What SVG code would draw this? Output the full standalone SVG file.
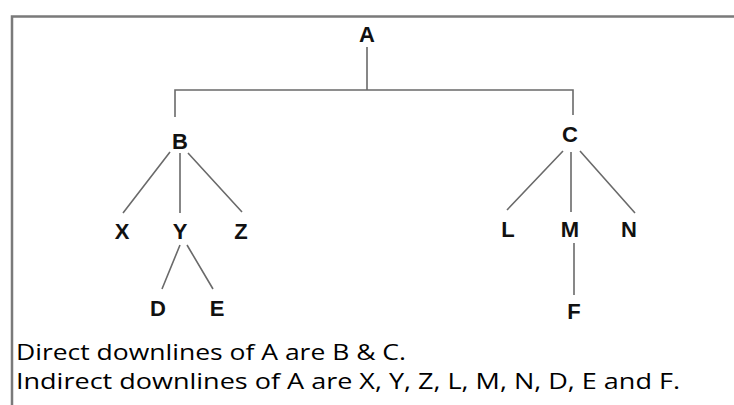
<svg xmlns="http://www.w3.org/2000/svg" width="734" height="405" viewBox="0 0 734 405">
<style>
.lbl{font-family:"Liberation Sans",Arial,sans-serif;font-weight:bold;font-size:22px;fill:#111;text-anchor:middle}
.txt{font-family:"Open Sans","DejaVu Sans",sans-serif;font-size:21px;font-weight:500;fill:#000}
.ln{stroke:#6a6a6a;stroke-width:1.6;fill:none}
</style>
<rect x="0" y="0" width="734" height="405" fill="#fff"/>
<path d="M12,420 V16.5 H740" stroke="#7a7a7a" stroke-width="2.5" fill="none"/>
<g id="connectors">
<path class="ln" d="M367,47 V90 M175,117 V90 H573 V115"/>
<path class="ln" d="M170,152 L123,213 M180,153 V213 M188,153 L242,212"/>
<path class="ln" d="M180,245 L162,289 M187,245 L213,289"/>
<path class="ln" d="M563,151 L507,210 M571,152 V212 M580,151 L635,213"/>
<path class="ln" d="M574,243 V295"/>
</g>
<g id="A"><text class="lbl" x="367" y="42">A</text></g>
<g id="B"><text class="lbl" x="180" y="149">B</text></g>
<g id="C"><text class="lbl" x="570" y="142">C</text></g>
<g id="X"><text class="lbl" x="122" y="239">X</text></g>
<g id="Y"><text class="lbl" x="180" y="239">Y</text></g>
<g id="Z"><text class="lbl" x="241" y="239">Z</text></g>
<g id="D"><text class="lbl" x="158" y="316">D</text></g>
<g id="E"><text class="lbl" x="217" y="316">E</text></g>
<g id="L"><text class="lbl" x="508" y="237">L</text></g>
<g id="M"><text class="lbl" x="570" y="237">M</text></g>
<g id="N"><text class="lbl" x="629" y="237">N</text></g>
<g id="F"><text class="lbl" x="574" y="319">F</text></g>
<g id="notes">
<text class="txt" x="16" y="360" textLength="390" lengthAdjust="spacingAndGlyphs">Direct downlines of A are B &amp; C.</text>
<text class="txt" x="16" y="389" textLength="664" lengthAdjust="spacingAndGlyphs">Indirect downlines of A are X, Y, Z, L, M, N, D, E and F.</text>
</g>
</svg>
